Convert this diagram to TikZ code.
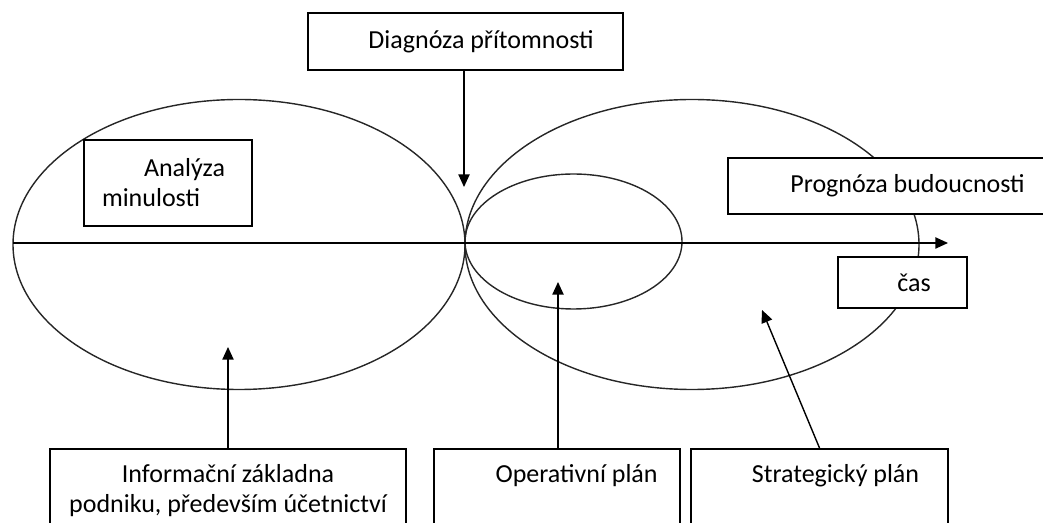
\documentclass[tikz,border=0pt]{standalone}
\usepackage{fontspec}
\setmainfont{Carlito}
\usetikzlibrary{positioning,arrows.meta}

\begin{document}
\begin{tikzpicture}[
  box/.style={draw, line width=1.2pt, fill=white, inner sep=0pt,
              align=center, font=\fontsize{18.5}{21.3}\selectfont},
  lowbox/.style={box, anchor=north, text height=0.85cm, text depth=2cm},
  orbit/.style={line width=1pt, black!85},
  edge/.style={line width=1pt, -{Triangle[length=9pt,width=8pt]}},
]

\useasboundingbox (0,0) rectangle (26.075,13.05);
\clip (0,0) rectangle (26.075,13.05);

% past, future and the near future
\draw[orbit] (5.975,6.9375) ellipse (5.65 and 3.625);
\draw[orbit] (17.3,6.9375) ellipse (5.675 and 3.625);
\draw[orbit] (14.3375,7.0125) ellipse (2.7125 and 1.6875);

% time axis
\coordinate (axisL) at (0.325,6.975);
\coordinate (axisR) at (23.7,6.975);
\draw[edge] (axisL) -- (axisR);

\node[box, minimum width=7.875cm, minimum height=1.425cm] (diag) at (11.6375,12.0125)
  {\hspace*{0.78cm}Diagnóza přítomnosti};
\node[box, minimum width=4.2cm, minimum height=2.15cm, text width=3.3cm,
      align=left, inner xsep=0.45cm] (past) at (4.2,8.475)
  {\hspace*{1.05cm}Analýza\\minulosti};
\node[box, minimum width=8.2cm, minimum height=1.4cm] (future) at (22.3,8.4)
  {\hspace*{0.78cm}Prognóza budoucnosti};
\node[box, minimum width=3.225cm, minimum height=1.275cm] (time) at (22.5625,5.9875)
  {\hspace*{0.58cm}čas};

% boxes along the bottom edge
\node[lowbox, minimum width=8.9cm] (info) at (5.7,1.85)
  {\begin{tabular}[t]{@{}c@{}}Informační základna\\podniku, především účetnictví\end{tabular}};
\node[lowbox, minimum width=6.15cm] (oper) at (13.925,1.85)
  {\hspace*{0.98cm}Operativní plán};
\node[lowbox, minimum width=6.425cm] (strat) at (20.4875,1.85)
  {\hspace*{0.8cm}Strategický plán};

\coordinate (diagtip) at (11.6,8.375);
\coordinate (pasttip) at (5.7,4.375);
\coordinate (opertip) at (13.95,6.0);
\coordinate (strattip) at (19.05,5.3);

\draw[edge] (diagtip |- diag.south) -- (diagtip);
\draw[edge] (info.north) -- (pasttip);
\draw[edge] (opertip |- oper.north) -- (opertip);
\draw[edge] (strat.north) -- (strattip);

\end{tikzpicture}
\end{document}
